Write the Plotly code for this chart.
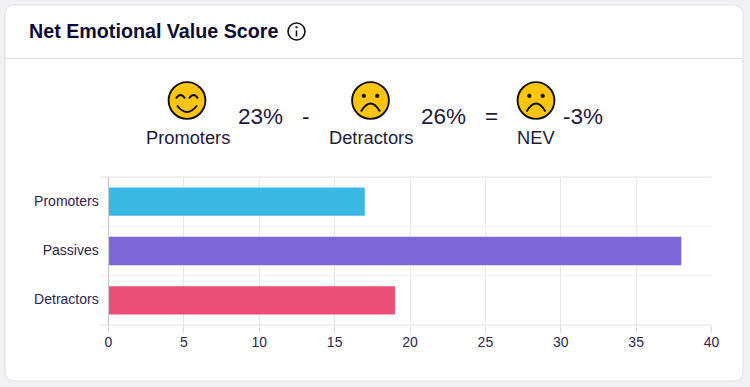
import plotly.graph_objects as go

W, H = 750, 387
categories = ["Promoters", "Passives", "Detractors"]
values = [17, 38, 19]
bar_colors = ["#38b8e3", "#7d67d6", "#ea4e76"]
x_ticks = [0, 5, 10, 15, 20, 25, 30, 35, 40]
title_text = "Net Emotional Value Score"
summary_labels = ["Promoters", "Detractors", "NEV"]
summary_values = ["23%", "26%", "-3%"]
operators = ["-", "="]

FONT = "Liberation Sans"
INK = "#1b1b3a"

def X(p):
    return p / W

def Y(p):
    return 1 - p / H

def P(x, y):
    return f"{X(x):.5f},{Y(y):.5f}"

shapes = []
annotations = []

def rrect(x0, y0, x1, y1, r, fill, line, lw=1):
    q = 0.45 * r
    d = (f"M{P(x0+r,y0)} L{P(x1-r,y0)} C{P(x1-q,y0)} {P(x1,y0+q)} {P(x1,y0+r)} "
         f"L{P(x1,y1-r)} C{P(x1,y1-q)} {P(x1-q,y1)} {P(x1-r,y1)} "
         f"L{P(x0+r,y1)} C{P(x0+q,y1)} {P(x0,y1-q)} {P(x0,y1-r)} "
         f"L{P(x0,y0+r)} C{P(x0,y0+q)} {P(x0+q,y0)} {P(x0+r,y0)} Z")
    shapes.append(dict(type="path", xref="paper", yref="paper", path=d, fillcolor=fill,
                       line=dict(color=line, width=lw), layer="below"))

def circle(cx, cy, r, fill, line, lw):
    shapes.append(dict(type="circle", xref="paper", yref="paper",
                       x0=X(cx - r), x1=X(cx + r), y0=Y(cy + r), y1=Y(cy - r),
                       fillcolor=fill, line=dict(color=line, width=lw)))

def curve(pts, color="#111111", lw=2):
    a, b, c = pts
    shapes.append(dict(type="path", xref="paper", yref="paper",
                       path=f"M{P(*a)} Q{P(*b)} {P(*c)}",
                       line=dict(color=color, width=lw)))

def hline(x0, x1, y, color, lw=1, layer="below"):
    shapes.append(dict(type="line", xref="paper", yref="paper", x0=X(x0), x1=X(x1),
                       y0=Y(y), y1=Y(y), line=dict(color=color, width=lw), layer=layer))

def text(x, y, s, size, color=INK, anchor="center", bold=False):
    annotations.append(dict(xref="paper", yref="paper", x=X(x), y=Y(y), text=f"<b>{s}</b>" if bold else s,
                            showarrow=False, xanchor=anchor, yanchor="middle",
                            font=dict(family=FONT, size=size, color=color)))

def happy(cx, cy):
    circle(cx, cy, 18.4, "#fec50f", "#111111", 1.9)
    curve([(cx - 11, cy - 2), (cx - 6.5, cy - 9), (cx - 2, cy - 2)], lw=2)
    curve([(cx + 2, cy - 2), (cx + 6.5, cy - 9), (cx + 11, cy - 2)], lw=2)
    curve([(cx - 10, cy + 5), (cx, cy + 18), (cx + 10, cy + 5)], lw=2)

def sad(cx, cy):
    circle(cx, cy, 18.4, "#fec50f", "#111111", 1.9)
    circle(cx - 6.7, cy - 4.7, 1.9, "#111111", "#111111", 0.5)
    circle(cx + 6.7, cy - 4.7, 1.9, "#111111", "#111111", 0.5)
    curve([(cx - 9.5, cy + 11), (cx, cy - 5), (cx + 9.5, cy + 11)], lw=2)

# Card
rrect(5, 5, 743, 381, 9, "#ffffff", "#e3dfe1", 1)
hline(5, 743, 58.5, "#e2dee0")
text(27, 31, title_text, 19.7, "#0b0b33", "left", True)
circle(296.5, 31.5, 8.5, "#ffffff", "#111111", 1.6)
circle(296.5, 27.3, 1.0, "#111111", "#111111", 0.3)
shapes.append(dict(type="line", xref="paper", yref="paper", x0=X(296.5), x1=X(296.5),
                   y0=Y(30.5), y1=Y(36.5), line=dict(color="#111111", width=1.6)))

# Summary row
happy(187, 100.5)
sad(370.5, 100.5)
sad(536, 100.5)
text(187.5, 137.5, summary_labels[0], 18.3)
text(370.5, 137.5, summary_labels[1], 18.3)
text(536, 137.5, summary_labels[2], 18.3)
text(260, 116, summary_values[0], 22.5)
text(443, 116, summary_values[1], 22.5)
text(583, 116, summary_values[2], 22.5)
text(306, 116, operators[0], 22.5)
text(491.5, 116, operators[1], 22.5)

# Horizontal band grid lines
PLOT_L, PLOT_R, PLOT_T, PLOT_B = 108.5, 711.5, 177, 325
for i in range(4):
    hline(100, PLOT_R, PLOT_T + i * (PLOT_B - PLOT_T) / 3, "#e4e2e4" if i in (0, 3) else "#eeeeee", 1)
shapes.append(dict(type="line", xref="paper", yref="paper", x0=X(PLOT_L), x1=X(PLOT_L),
                   y0=Y(PLOT_T), y1=Y(PLOT_B), line=dict(color="#c8c8c8", width=1.2), layer="above"))

fig = go.Figure(go.Bar(
    y=categories, x=values, orientation="h",
    marker=dict(color=bar_colors, line=dict(width=0)),
    width=0.575, hoverinfo="skip",
))
fig.update_layout(
    width=W, height=H, autosize=False,
    margin=dict(l=0, r=0, t=0, b=0, pad=0),
    paper_bgcolor="#f1f0f2", plot_bgcolor="rgba(0,0,0,0)",
    showlegend=False, shapes=shapes, annotations=annotations,
    font=dict(family=FONT, size=14, color=INK),
    xaxis=dict(domain=[X(PLOT_L), X(PLOT_R)], range=[0, 40], tickvals=x_ticks, automargin=False,
               showgrid=True, gridcolor="#e8e6e8", gridwidth=1, zeroline=False,
               ticks="outside", ticklen=7, tickcolor="#dedcde", tickwidth=1,
               ticklabelstandoff=-3,
               showline=False, tickfont=dict(family=FONT, size=14, color="#2a2650")),
    yaxis=dict(domain=[Y(PLOT_B), Y(PLOT_T)], autorange="reversed", type="category", automargin=False,
               categoryorder="array", categoryarray=categories,
               showgrid=False, zeroline=False, showline=False, ticks="outside",
               ticklen=6, tickcolor="rgba(0,0,0,0)", ticklabelshift=1,
               tickfont=dict(family=FONT, size=14, color="#2a2650")),
)
fig.write_html("out.html", config={"displayModeBar": False},
               post_script="document.body.style.margin='0';document.documentElement.style.overflow='hidden';")
